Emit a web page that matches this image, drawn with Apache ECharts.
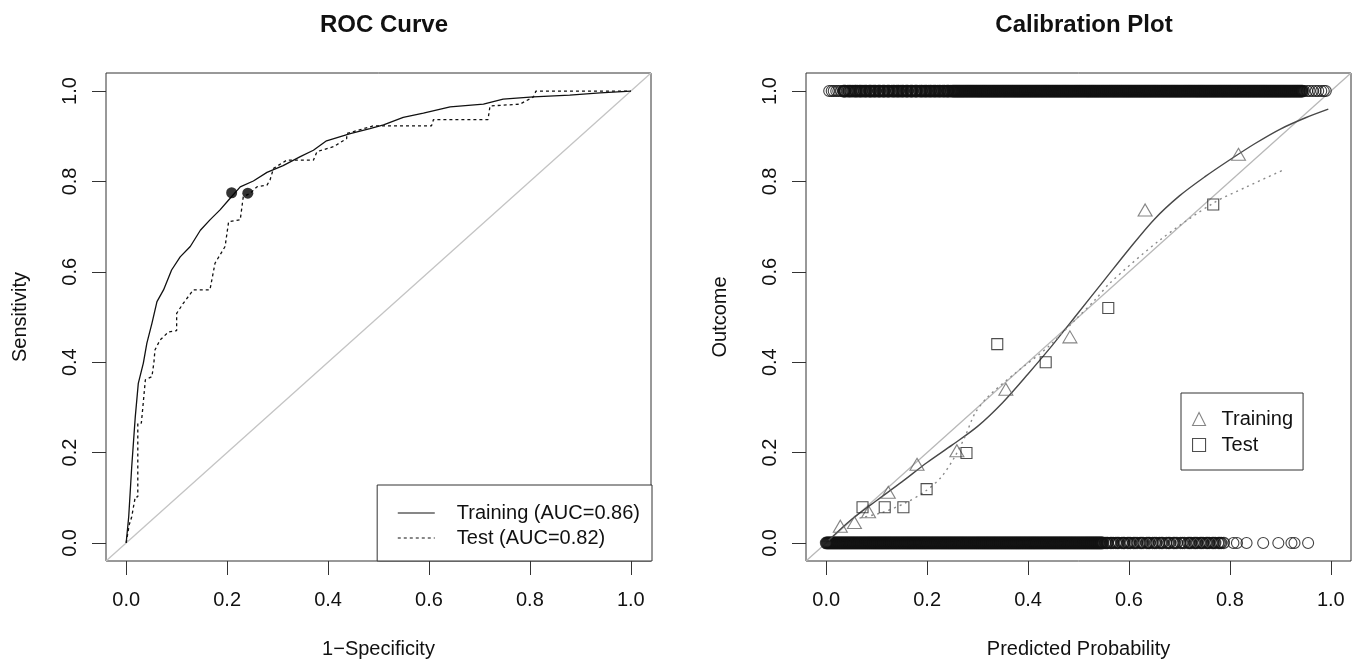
<!DOCTYPE html>
<html>
<head>
<meta charset="utf-8">
<script src="https://cdn.jsdelivr.net/npm/echarts@6/dist/echarts.min.js"></script>
<style>
html,body{margin:0;padding:0;background:#fff;}
#chart{width:1361px;height:664px;}
</style>
</head>
<body>
<div id="chart"></div>
<script>
// ---------- DATA ----------
const tickValues = [0, 0.2, 0.4, 0.6, 0.8, 1.0];

// ROC curve: training (solid)
const rocTrainFpr = [0,0.005,0.011,0.018,0.024,0.034,0.041,0.051,0.061,0.074,0.090,0.107,0.127,0.147,0.166,0.186,0.203,0.226,0.252,0.279,0.311,0.345,0.371,0.397,0.444,0.483,0.510,0.549,0.589,0.642,0.708,0.747,0.807,0.879,0.939,1.0];
const rocTrainTpr = [0,0.058,0.169,0.279,0.353,0.398,0.442,0.486,0.534,0.560,0.604,0.633,0.656,0.692,0.715,0.737,0.759,0.788,0.801,0.820,0.835,0.855,0.869,0.890,0.906,0.917,0.925,0.942,0.951,0.965,0.971,0.982,0.987,0.991,0.996,1.0];

// ROC curve: test (dashed)
const rocTestFpr = [0,0.006,0.011,0.018,0.023,0.023,0.030,0.033,0.038,0.051,0.055,0.057,0.067,0.084,0.100,0.100,0.113,0.133,0.166,0.176,0.196,0.203,0.226,0.232,0.246,0.259,0.279,0.285,0.292,0.298,0.318,0.371,0.378,0.411,0.437,0.437,0.490,0.605,0.609,0.717,0.721,0.780,0.807,0.812,1.0];
const rocTestTpr = [0,0.040,0.058,0.102,0.102,0.265,0.265,0.300,0.361,0.368,0.400,0.427,0.449,0.467,0.470,0.508,0.530,0.560,0.560,0.619,0.656,0.711,0.715,0.766,0.774,0.788,0.792,0.803,0.829,0.833,0.847,0.847,0.866,0.877,0.895,0.906,0.923,0.923,0.937,0.937,0.967,0.971,0.987,1.0,1.0];

// Optimal cut-off points (training, test)
const cutoffFpr = [0.209, 0.241];
const cutoffTpr = [0.775, 0.774];

// Calibration: grouped points
const calTrainPred = [0.028,0.056,0.084,0.123,0.180,0.259,0.356,0.483,0.632,0.817];
const calTrainObs  = [0.037,0.045,0.069,0.112,0.174,0.204,0.340,0.456,0.737,0.860];
const calTestPred  = [0.072,0.116,0.153,0.199,0.278,0.339,0.435,0.559,0.767];
const calTestObs   = [0.079,0.079,0.079,0.119,0.199,0.440,0.400,0.520,0.749];

// Calibration: smoothed curves
const curveTrainPred = [0.005,0.05,0.10,0.15,0.20,0.25,0.30,0.35,0.40,0.45,0.50,0.55,0.60,0.65,0.70,0.75,0.80,0.85,0.90,0.95,0.995];
const curveTrainObs  = [0.006,0.052,0.094,0.135,0.178,0.217,0.258,0.311,0.374,0.440,0.510,0.580,0.650,0.716,0.768,0.810,0.848,0.884,0.916,0.941,0.960];
const curveTestPred = [0.066,0.110,0.156,0.196,0.229,0.255,0.275,0.295,0.321,0.374,0.440,0.493,0.533,0.562,0.661,0.767,0.833,0.909];
const curveTestObs  = [0.055,0.067,0.088,0.114,0.147,0.191,0.235,0.287,0.324,0.375,0.434,0.493,0.538,0.575,0.670,0.752,0.788,0.827];

// Raw outcomes: predicted probability of cases with outcome 1
const rugOnePred = [0.006,0.011,0.015,0.020,0.024,0.029,
0.034,0.038,0.043,0.049,0.053,0.057,0.062,0.066,0.071,0.075,0.080,0.085,0.089,0.093,0.098,0.103,0.107,0.112,0.116,0.121,0.125,0.130,0.135,0.139,0.144,0.148,0.153,0.158,0.162,0.167,0.171,0.176,0.180,0.185,0.190,0.194,0.199,0.203,0.208,0.212,0.217,0.221,0.226,0.230,0.235,0.239,0.243,0.247,
0.036,0.046,0.059,0.068,0.078,0.087,0.096,0.105,0.114,0.123,0.133,0.142,0.151,0.160,0.169,0.178,0.188,0.197,0.206,0.215,0.224,0.233,0.241,
0.250,0.254,0.258,0.262,0.266,0.270,0.274,0.278,0.282,0.286,0.290,0.294,0.298,0.302,0.306,0.310,0.314,0.318,0.322,0.326,0.330,0.334,0.338,0.342,0.346,0.350,0.354,0.358,0.362,0.366,0.370,0.374,0.378,0.382,0.386,0.390,0.394,0.398,0.402,0.406,0.410,0.414,0.418,0.422,0.426,0.430,0.434,0.438,0.442,0.446,0.450,0.454,0.458,0.462,0.466,0.470,0.474,0.478,0.482,0.486,0.490,0.494,0.498,0.502,0.506,0.510,0.514,0.518,0.522,0.526,0.530,0.534,0.538,0.542,0.546,0.550,0.554,0.558,0.562,0.566,0.570,0.574,0.578,0.582,0.586,0.590,0.594,0.598,0.602,0.606,0.610,0.614,0.618,0.622,0.626,0.630,0.634,0.638,0.642,0.646,0.650,0.654,0.658,0.662,0.666,0.670,0.674,0.678,0.682,0.686,0.690,0.694,0.698,0.702,0.706,0.710,0.714,0.718,0.722,0.726,0.730,0.734,0.738,0.742,0.746,0.750,0.754,0.758,0.762,0.766,0.770,0.774,0.778,0.782,0.786,0.790,0.794,0.798,0.802,0.806,0.810,0.814,0.818,0.822,0.826,0.830,0.834,0.838,0.842,0.846,0.850,0.854,0.858,0.862,0.866,0.870,0.874,0.878,0.882,0.886,0.890,0.894,0.898,0.902,0.906,0.910,0.914,0.918,0.922,0.926,0.930,0.934,0.938,0.942,
0.252,0.256,0.260,0.264,0.268,0.272,0.276,0.280,0.284,0.288,0.292,0.296,0.300,0.304,0.308,0.312,0.316,0.320,0.324,0.328,0.332,0.336,0.340,0.344,0.348,0.352,0.356,0.360,0.364,0.368,0.372,0.376,0.380,0.384,0.388,0.392,0.396,0.400,0.404,0.408,0.412,0.416,0.420,0.424,0.428,0.432,0.436,0.440,0.444,0.448,0.452,0.456,0.460,0.464,0.468,0.472,0.476,0.480,0.484,0.488,0.492,0.496,0.500,0.504,0.508,0.512,0.516,0.520,0.524,0.528,0.532,0.536,0.540,0.544,0.548,0.552,0.556,0.560,0.564,0.568,0.572,0.576,0.580,0.584,0.588,0.592,0.596,0.600,0.604,0.608,0.612,0.616,0.620,0.624,0.628,0.632,0.636,0.640,0.644,0.648,0.652,0.656,0.660,0.664,0.668,0.672,0.676,0.680,0.684,0.688,0.692,0.696,0.700,0.704,0.708,0.712,0.716,0.720,0.724,0.728,0.732,0.736,0.740,0.744,0.748,0.752,0.756,0.760,0.764,0.768,0.772,0.776,0.780,0.784,0.788,0.792,0.796,0.800,0.804,0.808,0.812,0.816,0.820,0.824,0.828,0.832,0.836,0.840,0.844,0.848,0.852,0.856,0.860,0.864,0.868,0.872,0.876,0.880,0.884,0.888,0.892,0.896,0.900,0.904,0.908,0.912,0.916,0.920,0.924,0.928,0.932,0.936,0.940,0.944,
0.947,0.953,0.958,0.964,0.970,0.975,0.981,0.986,0.990];

// Raw outcomes: predicted probability of cases with outcome 0
const rugZeroPred = [0.000,0.004,0.008,0.012,0.016,0.020,0.024,0.028,0.032,0.036,0.040,0.044,0.048,0.052,0.056,0.060,0.064,0.068,0.072,0.076,0.080,0.084,0.088,0.092,0.096,0.100,0.104,0.108,0.112,0.116,0.120,0.124,0.128,0.132,0.136,0.140,0.144,0.148,0.152,0.156,0.160,0.164,0.168,0.172,0.176,0.180,0.184,0.188,0.192,0.196,0.200,0.204,0.208,0.212,0.216,0.220,0.224,0.228,0.232,0.236,0.240,0.244,0.248,0.252,0.256,0.260,0.264,0.268,0.272,0.276,0.280,0.284,0.288,0.292,0.296,0.300,0.304,0.308,0.312,0.316,0.320,0.324,0.328,0.332,0.336,0.340,0.344,0.348,0.352,0.356,0.360,0.364,0.368,0.372,0.376,0.380,0.384,0.388,0.392,0.396,0.400,0.404,0.408,0.412,0.416,0.420,0.424,0.428,0.432,0.436,0.440,0.444,0.448,0.452,0.456,0.460,0.464,0.468,0.472,0.476,0.480,0.484,0.488,0.492,0.496,0.500,0.504,0.508,0.512,0.516,0.520,0.524,0.528,0.532,0.536,0.540,0.544,0.548,
0.002,0.006,0.010,0.014,0.018,0.022,0.026,0.030,0.034,0.038,0.042,0.046,0.050,0.054,0.058,0.062,0.066,0.070,0.074,0.078,0.082,0.086,0.090,0.094,0.098,0.102,0.106,0.110,0.114,0.118,0.122,0.126,0.130,0.134,0.138,0.142,0.146,0.150,0.154,0.158,0.162,0.166,0.170,0.174,0.178,0.182,0.186,0.190,0.194,0.198,0.202,0.206,0.210,0.214,0.218,0.222,0.226,0.230,0.234,0.238,0.242,0.246,0.250,0.254,0.258,0.262,0.266,0.270,0.274,0.278,0.282,0.286,0.290,0.294,0.298,0.302,0.306,0.310,0.314,0.318,0.322,0.326,0.330,0.334,0.338,0.342,0.346,0.350,0.354,0.358,0.362,0.366,0.370,0.374,0.378,0.382,0.386,0.390,0.394,0.398,0.402,0.406,0.410,0.414,0.418,0.422,0.426,0.430,0.434,0.438,0.442,0.446,0.450,0.454,0.458,0.462,0.466,0.470,0.474,0.478,0.482,0.486,0.490,0.494,0.498,0.502,0.506,0.510,0.514,0.518,0.522,0.526,0.530,0.534,0.538,0.542,0.546,
0.553,0.558,0.563,0.569,0.574,0.580,0.586,0.591,0.597,0.603,0.609,0.616,0.622,0.628,0.635,0.641,0.647,0.654,0.660,0.667,0.674,0.681,0.688,0.695,0.702,0.710,0.717,0.723,0.729,0.735,0.741,0.747,0.753,0.759,0.765,0.771,0.777,0.783,0.788,
0.556,0.566,0.577,0.589,0.600,0.612,0.625,0.638,0.651,0.664,0.678,0.691,0.706,0.720,0.732,0.744,0.756,0.768,0.780,
0.807,0.814,0.833,0.866,0.896,0.922,0.928,0.955];

// ---------- CHART ----------
const FONT = "'Liberation Sans', Arial, Helvetica, sans-serif";
const TXT = '#111';
const zip = (a, b) => a.map((v, i) => [v, b[i]]);

// ring stroke: heavier where the raw-outcome circles pile up densely
function rugItems(preds, outcome) {
  return preds.map(p => {
    let w;
    if (outcome === 1) w = (p < 0.03 || p > 0.945) ? 1.1 : 1.8;
    else w = p < 0.55 ? 1.7 : (p < 0.79 ? 1.4 : 1.1);
    return { value: [p, outcome], itemStyle: { borderWidth: w } };
  });
}

function makeX(gridIndex, name) {
  return {
    type: 'value', gridIndex, min: -0.04, max: 1.04,
    name, nameLocation: 'middle', nameGap: 78,
    nameTextStyle: { fontSize: 20, color: TXT, fontFamily: FONT },
    axisLine: { show: false, onZero: false },
    axisTick: { show: true, length: 14, customValues: tickValues, lineStyle: { color: '#333', width: 1 } },
    axisLabel: { customValues: tickValues, margin: 29, fontSize: 20, color: TXT, fontFamily: FONT,
      formatter: v => v.toFixed(1) },
    splitLine: { show: false }
  };
}
function makeY(gridIndex, name) {
  return {
    type: 'value', gridIndex, min: -0.04, max: 1.04,
    name, nameLocation: 'middle', nameGap: 76, nameRotate: 90,
    nameTextStyle: { fontSize: 20, color: TXT, fontFamily: FONT },
    axisLine: { show: false, onZero: false },
    axisTick: { show: true, length: 14, customValues: tickValues, lineStyle: { color: '#333', width: 1 } },
    axisLabel: { customValues: tickValues, margin: 26, rotate: 90, fontSize: 20, color: TXT, fontFamily: FONT,
      formatter: v => v.toFixed(1) },
    splitLine: { show: false }
  };
}

const chart = echarts.init(document.getElementById('chart'), null, { renderer: 'canvas' });
chart.setOption({
  animation: false,
  backgroundColor: '#fff',
  textStyle: { fontFamily: FONT },
  title: [
    { text: 'ROC Curve', left: 379, top: 8, textAlign: 'center',
      textStyle: { fontSize: 24, fontWeight: 'bold', color: TXT, fontFamily: FONT } },
    { text: 'Calibration Plot', left: 1079, top: 8, textAlign: 'center',
      textStyle: { fontSize: 24, fontWeight: 'bold', color: TXT, fontFamily: FONT } }
  ],
  grid: [
    { left: 106, top: 73, width: 545, height: 488, show: true, borderColor: '#333', borderWidth: 1, backgroundColor: 'transparent', containLabel: false },
    { left: 806, top: 73, width: 545, height: 488, show: true, borderColor: '#333', borderWidth: 1, backgroundColor: 'transparent', containLabel: false }
  ],
  xAxis: [ makeX(0, '1\u2212Specificity'), makeX(1, 'Predicted Probability') ],
  yAxis: [ makeY(0, 'Sensitivity'), makeY(1, 'Outcome') ],
  legend: [
    {
      data: ['Training (AUC=0.86)', 'Test (AUC=0.82)'],
      orient: 'vertical', right: 709, bottom: 103,
      padding: [18, 12, 13, 20], itemGap: 5, itemWidth: 37, itemHeight: 14,
      borderColor: '#333', borderWidth: 1, borderRadius: 0, backgroundColor: '#fff',
      selectedMode: false, align: 'left',
      lineStyle: { width: 1.2 },
      itemStyle: { opacity: 0, color: 'rgba(0,0,0,0)', borderWidth: 0 },
      textStyle: { fontSize: 20, color: TXT, fontFamily: FONT, padding: [0, 0, 0, 17] }
    },
    {
      data: ['Training', 'Test'],
      orient: 'vertical', left: 1181, top: 393,
      padding: [16, 10, 15, 11], itemGap: 6, itemWidth: 13, itemHeight: 13,
      borderColor: '#333', borderWidth: 1, borderRadius: 0, backgroundColor: '#fff',
      selectedMode: false, align: 'left',
      itemStyle: { borderWidth: 1.1 },
      textStyle: { fontSize: 20, color: TXT, fontFamily: FONT, padding: [0, 0, 0, 11] }
    }
  ],
  series: [
    // ---- ROC ----
    { name: 'ref1', type: 'line', xAxisIndex: 0, yAxisIndex: 0, symbol: 'none', silent: true,
      data: [[-0.04, -0.04], [1.04, 1.04]], lineStyle: { color: '#c4c4c4', width: 1.3 }, z: 1 },
    { name: 'Training (AUC=0.86)', type: 'line', xAxisIndex: 0, yAxisIndex: 0, symbol: 'none',
      data: zip(rocTrainFpr, rocTrainTpr), lineStyle: { color: '#111', width: 1.3 }, itemStyle: { color: '#111' }, z: 3 },
    { name: 'Test (AUC=0.82)', type: 'line', xAxisIndex: 0, yAxisIndex: 0, symbol: 'none',
      data: zip(rocTestFpr, rocTestTpr), lineStyle: { color: '#111', width: 1.3, type: [3, 3] }, itemStyle: { color: '#111' }, z: 2 },
    { name: 'Cutoff', type: 'scatter', xAxisIndex: 0, yAxisIndex: 0, symbol: 'circle', symbolSize: 11,
      data: zip(cutoffFpr, cutoffTpr), itemStyle: { color: '#000' }, z: 4 },
    // ---- Calibration ----
    { name: 'ref2', type: 'line', xAxisIndex: 1, yAxisIndex: 1, symbol: 'none', silent: true,
      data: [[-0.04, -0.04], [1.04, 1.04]], lineStyle: { color: '#b8b8b8', width: 1.3 }, z: 1 },
    { name: 'Outcome 1', type: 'scatter', xAxisIndex: 1, yAxisIndex: 1, symbol: 'circle', symbolSize: 11, clip: false,
      data: rugItems(rugOnePred, 1),
      itemStyle: { color: 'rgba(0,0,0,0)', borderColor: '#111', borderWidth: 1.1 }, z: 2 },
    { name: 'Outcome 0', type: 'scatter', xAxisIndex: 1, yAxisIndex: 1, symbol: 'circle', symbolSize: 11, clip: false,
      data: rugItems(rugZeroPred, 0),
      itemStyle: { color: 'rgba(0,0,0,0)', borderColor: '#111', borderWidth: 1.1 }, z: 2 },
    { name: 'Training curve', type: 'line', xAxisIndex: 1, yAxisIndex: 1, symbol: 'none', smooth: 0.3,
      data: zip(curveTrainPred, curveTrainObs), lineStyle: { color: '#484848', width: 1.4 }, z: 3 },
    { name: 'Test curve', type: 'line', xAxisIndex: 1, yAxisIndex: 1, symbol: 'none', smooth: 0.3,
      data: zip(curveTestPred, curveTestObs), lineStyle: { color: '#8a8a8a', width: 1.4, type: [2, 4] }, z: 3 },
    { name: 'Training', type: 'scatter', xAxisIndex: 1, yAxisIndex: 1, symbol: 'triangle', symbolSize: [14, 12],
      data: zip(calTrainPred, calTrainObs),
      itemStyle: { color: 'rgba(0,0,0,0)', borderColor: '#666', borderWidth: 1.1 }, z: 4 },
    { name: 'Test', type: 'scatter', xAxisIndex: 1, yAxisIndex: 1, symbol: 'rect', symbolSize: 11,
      data: zip(calTestPred, calTestObs),
      itemStyle: { color: 'rgba(0,0,0,0)', borderColor: '#222', borderWidth: 1.1 }, z: 4 }
  ]
});
</script>
</body>
</html>
